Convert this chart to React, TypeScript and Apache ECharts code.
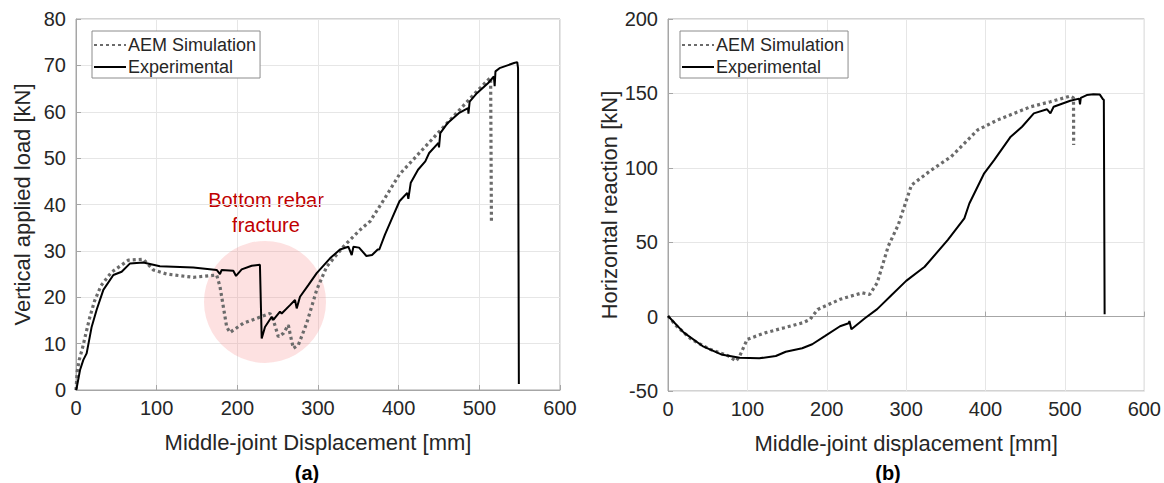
import React, { useEffect, useRef } from "react";
import * as echarts from "echarts";

const xTicks = [0, 100, 200, 300, 400, 500, 600];
const seriesNames = ["AEM Simulation", "Experimental"];

// (a) Vertical applied load vs middle-joint displacement
const aemA: number[][] = [
  [0, 0], [1.5, 4], [4, 6.5], [8, 9], [12, 12], [17, 15.6], [23, 19.2], [31, 22.5],
  [44, 25.4], [65, 28.0], [83.4, 28.2], [95.8, 25.9], [112.4, 25.0], [145.4, 24.3],
  [174.4, 24.8], [178.5, 22.3], [186.8, 13.6], [190.9, 12.4], [207.4, 14.4], [240.5, 16.5],
  [244.6, 15.1], [250.8, 11.5], [257, 12.2], [263.2, 14.0], [265.3, 12.2], [269.4, 9.0],
  [275.6, 9.7], [286, 14.4], [298.4, 21.6], [310.8, 26.6], [331.4, 30.9], [352, 34.5],
  [364.7, 36.4], [383, 41.4], [401, 46.5], [424, 50.8], [447, 55.1], [470, 59.4],
  [493, 63.7], [511, 66.9], [514, 67.3], [515, 36.1],
];
const expA: number[][] = [
  [0, 0], [0.8, 0.4], [5, 4.3], [9.1, 6.5], [13.2, 7.9], [19.4, 13.6], [25.6, 17.3],
  [33.9, 21.6], [46.3, 24.8], [56.6, 25.5], [67, 27.3], [83.4, 27.5], [104, 26.7],
  [145.4, 26.4], [174.4, 25.9], [178.5, 25.0], [180.6, 25.9], [195, 25.7], [198.4, 24.6],
  [205.4, 26.0], [217.8, 26.8], [228, 27.0], [230.2, 11.1], [234.3, 13.6], [242.6, 15.8],
  [244.6, 15.1], [252.9, 16.9], [255, 16.5], [265.3, 18.3], [271.5, 19.4], [273.6, 17.6],
  [277.7, 20.1], [288, 22.6], [298.4, 25.2], [314.9, 28.4], [327.3, 30.3], [337.6, 30.9],
  [341.8, 29.1], [343.9, 30.9], [350.9, 30.7], [360, 28.9], [367, 29.1], [374, 30.3],
  [376, 30.3], [383, 33.5], [392, 37.1], [401, 40.7], [410.6, 42.5], [412, 41.2],
  [415, 44.7], [424, 47.5], [433, 49.3], [437.8, 51.1], [449.3, 53.3], [450, 52.3],
  [451.6, 55.4], [460.8, 57.6], [474.5, 59.7], [486, 60.8], [486.5, 59.6], [488, 62.2],
  [497, 64.0], [511, 66.2], [518, 67.6], [519, 65.5], [520, 68.7], [525, 69.4],
  [543, 70.5], [547, 70.7], [548, 69.4], [549, 1.3],
];

// (b) Horizontal reaction vs middle-joint displacement
const aemB: number[][] = [
  [0, 0.4], [10.8, -6.4], [29.5, -15.3], [52.9, -22], [76.3, -26.5], [85.6, -29.9],
  [90.3, -26.5], [99.7, -15.3], [123, -10.8], [146.5, -7.5], [170, -4.1], [178.9, -1.9],
  [188.6, 4.8], [216.7, 11.6], [244.8, 16.0], [254.1, 14.9], [263.5, 22.7], [277.5, 47.4],
  [290, 61.6], [306.7, 88.4], [331.7, 98.5], [356.7, 107.5], [390, 125.4], [415, 132.1],
  [456.7, 141], [481.7, 144.4], [506.7, 148.2], [510.8, 147.0], [511, 115.3],
];
const expB: number[][] = [
  [0, 0.4], [20, -10.8], [43.5, -19.8], [67, -25.4], [90.3, -27.6], [115, -28.0],
  [135.8, -26.5], [148.3, -23.6], [169, -21.3], [181.7, -18.6], [198, -13.0],
  [216.7, -6.5], [227.5, -4.5], [228.5, -3.0], [231, -8.5], [248, -1.1], [263.5, 5],
  [281.7, 14.5], [300, 24], [323.3, 33.5], [352.5, 51.5], [373.3, 66], [379.6, 76],
  [398.3, 96.3], [410.8, 105.2], [431.7, 120.9], [446, 127.6], [460.8, 136.6],
  [477.5, 139.3], [481.7, 136.6], [485.8, 141], [506.7, 145.1], [518, 146.5],
  [519, 142.7], [520, 147], [527.5, 148.9], [535.8, 149.4], [544, 149.2], [548, 146],
  [549, 145.8], [550, 1.5],
];

// annotation circle centre in (a)
const fractureZone: number[][] = [[234.3, 19]];

const TXT = "#262626";
const FONT = "Liberation Sans, Arial, sans-serif";

export default function App() {
  const ref = useRef<HTMLDivElement>(null);
  useEffect(() => {
    document.body.style.margin = "0";
    const chart = echarts.init(ref.current!, null, { renderer: "svg" });
    const xAxisBase = (gridIndex: number, name: string) => ({
      type: "value",
      gridIndex,
      min: xTicks[0],
      max: xTicks[xTicks.length - 1],
      interval: 100,
      name,
      nameLocation: "middle",
      nameGap: 41,
      nameTextStyle: { fontSize: 22, color: TXT, fontFamily: FONT },
      axisLine: { show: true, lineStyle: { color: "#a6a6a6" } },
      axisTick: { show: true, inside: true, length: 5, lineStyle: { color: "#a6a6a6" } },
      axisLabel: { fontSize: 20, color: TXT, fontFamily: FONT, margin: 8 },
      splitLine: { show: true, lineStyle: { color: "#e6e6e6" } },
    });
    const yAxisBase = (gridIndex: number, name: string, min: number, max: number, interval: number) => ({
      type: "value",
      gridIndex,
      min,
      max,
      interval,
      name,
      nameLocation: "middle",
      nameGap: 43,
      nameTextStyle: { fontSize: 22, color: TXT, fontFamily: FONT },
      axisLine: { show: true, lineStyle: { color: "#a6a6a6" } },
      axisTick: { show: true, inside: true, length: 5, lineStyle: { color: "#a6a6a6" } },
      axisLabel: { fontSize: 20, color: TXT, fontFamily: FONT, margin: 10 },
      splitLine: { show: true, lineStyle: { color: "#e6e6e6" } },
    });
    const dotted = { color: "#6b6b6b", width: 3.2, type: [3, 3] as any };
    const solid = { color: "#000000", width: 2 };
    const legendBase = (left: number) => ({
      left,
      top: 31,
      orient: "vertical",
      data: seriesNames,
      itemWidth: 32,
      itemHeight: 10,
      itemGap: 4,
      padding: [5, 4, 2, 1],
      borderColor: "#8c8c8c",
      borderWidth: 1,
      backgroundColor: "#fff",
      selectedMode: false,
      itemStyle: { opacity: 0 },
      textStyle: { fontSize: 18, lineHeight: 18, color: TXT, fontFamily: FONT, padding: [0, 0, 0, -3] },
    });
    chart.setOption({
      animation: false,
      backgroundColor: "#fff",
      grid: [
        { left: 76, top: 19, width: 484, height: 371, show: true, borderColor: "#a6a6a6", borderWidth: 1, backgroundColor: "transparent" },
        { left: 668, top: 19, width: 480, height: 372, show: true, borderColor: "#a6a6a6", borderWidth: 1, backgroundColor: "transparent" },
      ],
      xAxis: [
        xAxisBase(0, "Middle-joint Displacement [mm]"),
        xAxisBase(1, "Middle-joint displacement [mm]"),
      ],
      yAxis: [
        yAxisBase(0, "Vertical applied load [kN]", 0, 80, 10),
        yAxisBase(1, "Horizontal reaction [kN]", -50, 200, 50),
      ],
      legend: [legendBase(92), legendBase(680)],
      series: [
        {
          type: "scatter",
          xAxisIndex: 0,
          yAxisIndex: 0,
          data: fractureZone,
          symbol: "circle",
          symbolSize: 122,
          silent: true,
          z: 1,
          itemStyle: { color: "rgba(245,130,130,0.3)" },
        },
        { name: seriesNames[0], type: "line", xAxisIndex: 0, yAxisIndex: 0, data: aemA, showSymbol: false, symbol: "none", lineStyle: dotted, itemStyle: { color: "#6b6b6b" }, z: 3 },
        { name: seriesNames[1], type: "line", xAxisIndex: 0, yAxisIndex: 0, data: expA, showSymbol: false, symbol: "none", lineStyle: solid, itemStyle: { color: "#000" }, z: 4 },
        { name: seriesNames[0], type: "line", xAxisIndex: 1, yAxisIndex: 1, data: aemB, showSymbol: false, symbol: "none", lineStyle: dotted, itemStyle: { color: "#6b6b6b" }, z: 3 },
        { name: seriesNames[1], type: "line", xAxisIndex: 1, yAxisIndex: 1, data: expB, showSymbol: false, symbol: "none", lineStyle: solid, itemStyle: { color: "#000" }, z: 4 },
      ],
      graphic: [
        { type: "text", x: 266, y: 200, style: { text: "Bottom rebar", fill: "#c00000", font: `20px ${FONT}`, textAlign: "center", textVerticalAlign: "middle" } },
        { type: "text", x: 266, y: 225, style: { text: "fracture", fill: "#c00000", font: `20px ${FONT}`, textAlign: "center", textVerticalAlign: "middle" } },
        { type: "text", x: 307, y: 473, style: { text: "(a)", fill: "#000", font: `bold 20px ${FONT}`, textAlign: "center", textVerticalAlign: "middle" } },
        { type: "text", x: 888, y: 473, style: { text: "(b)", fill: "#000", font: `bold 20px ${FONT}`, textAlign: "center", textVerticalAlign: "middle" } },
      ],
    });
    return () => chart.dispose();
  }, []);
  return <div ref={ref} style={{ width: 1164, height: 483 }} />;
}
